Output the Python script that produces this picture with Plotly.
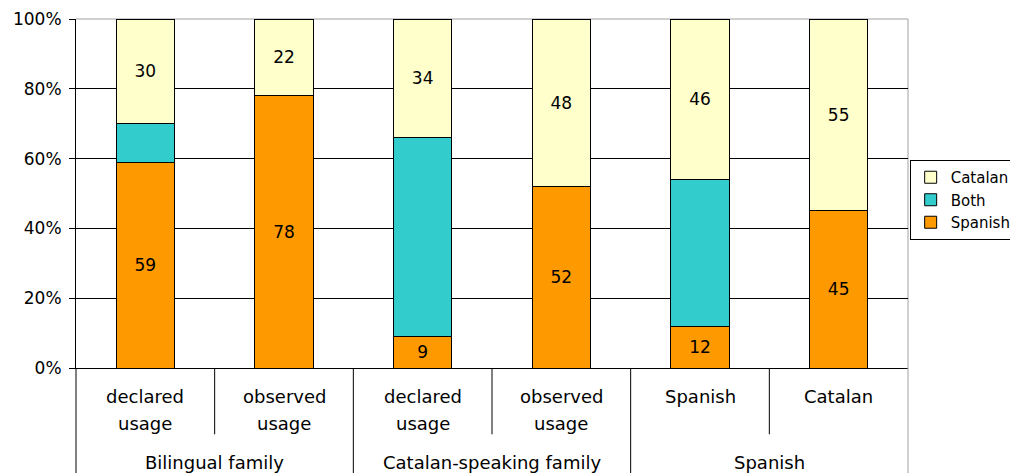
import plotly.graph_objects as go

# ── Data ─────────────────────────────────────────────────────────────────────
group_labels = ["Bilingual family", "Catalan-speaking family", "Spanish"]
group_of_bar = [0, 0, 1, 1, 2, 2]
sub_labels = [
    ["declared", "usage"],
    ["observed", "usage"],
    ["declared", "usage"],
    ["observed", "usage"],
    ["Spanish"],
    ["Catalan"],
]
spanish = [59, 78, 9, 52, 12, 45]
both = [11, None, 57, None, 42, None]
catalan = [30, 22, 34, 48, 46, 55]
y_ticks = [0, 20, 40, 60, 80, 100]

# ── Style ────────────────────────────────────────────────────────────────────
FONT = "DejaVu Sans"
FS = 17
FS_CAT = 18
COL_SPANISH = "#FF9900"
COL_BOTH = "#33CCCC"
COL_CATALAN = "#FFFFCC"
GREY = "#A0A0A0"

xs = list(range(len(sub_labels)))
n = len(xs)


def _bar(name, values, color, show_text):
    return go.Bar(
        x=xs,
        y=values,
        name=name,
        width=0.42,
        marker=dict(color=color, line=dict(color="black", width=1)),
        text=[v if (show_text and v) else "" for v in values],
        textposition="inside",
        insidetextanchor="middle",
        textangle=0,
        textfont=dict(family=FONT, size=FS, color="black"),
        hoverinfo="name+y",
    )


fig = go.Figure()
fig.add_trace(_bar("Spanish", spanish, COL_SPANISH, True))
fig.add_trace(_bar("Both", both, COL_BOTH, False))
fig.add_trace(_bar("Catalan", catalan, COL_CATALAN, True))

# grey top and right border of the plot area
fig.add_shape(type="line", xref="paper", yref="paper",
              x0=0, x1=1, y0=1, y1=1, line=dict(color=GREY, width=1), layer="below")
fig.add_shape(type="line", xref="paper", yref="paper",
              x0=1, x1=1, y0=0, y1=1, line=dict(color=GREY, width=1), layer="below")

# category table below the axis
INNER_DEPTH = -0.19
OUTER_DEPTH = -0.32
for k in range(n + 1):
    is_edge = k in (0, n)
    is_group_break = (0 < k < n) and group_of_bar[k] != group_of_bar[k - 1]
    depth = OUTER_DEPTH if (is_edge or is_group_break) else INNER_DEPTH
    color = GREY if k == n else "black"
    fig.add_shape(type="line", xref="paper", yref="paper",
                  x0=k / n, x1=k / n, y0=0, y1=depth,
                  line=dict(color=color, width=1))

for i, lines in zip(xs, sub_labels):
    for j, line in enumerate(lines):
        fig.add_annotation(x=i, y=-0.083 - j * 0.077, xref="x", yref="paper",
                           text=line, showarrow=False, yanchor="middle",
                           font=dict(family=FONT, size=FS_CAT, color="black"))

for g, label in enumerate(group_labels):
    members = [i for i in xs if group_of_bar[i] == g]
    fig.add_annotation(x=sum(members) / len(members), y=-0.27, xref="x", yref="paper",
                       text=label, showarrow=False, yanchor="middle",
                       font=dict(family=FONT, size=FS_CAT, color="black"))

fig.update_layout(
    width=1010,
    height=473,
    margin=dict(l=76, r=102, t=19, b=105, autoexpand=False),
    barmode="stack",
    paper_bgcolor="white",
    plot_bgcolor="white",
    font=dict(family=FONT, size=FS, color="black"),
    xaxis=dict(
        range=[-0.5, n - 0.5],
        showticklabels=False,
        ticks="",
        showgrid=False,
        showline=True,
        linecolor="black",
        linewidth=1,
        zeroline=False,
        fixedrange=True,
    ),
    yaxis=dict(
        range=[0, 100],
        tickvals=y_ticks,
        ticktext=[f"{v}%" for v in y_ticks],
        ticks="outside",
        ticklen=6,
        tickcolor="black",
        ticklabelstandoff=4,
        showgrid=False,
        minor=dict(tickvals=y_ticks[1:-1], showgrid=True, gridcolor="black",
                   gridwidth=1, ticks=""),
        showline=True,
        linecolor="black",
        linewidth=1,
        zeroline=False,
        fixedrange=True,
        tickfont=dict(family=FONT, size=FS, color="black"),
    ),
    legend=dict(
        x=1.002,
        y=0.596,
        xanchor="left",
        yanchor="top",
        traceorder="reversed",
        bgcolor="white",
        bordercolor="black",
        borderwidth=1,
        font=dict(family=FONT, size=15, color="black"),
        itemwidth=30,
        tracegroupgap=0,
    ),
    showlegend=True,
)

fig.write_html("out.html", config={"displayModeBar": False},
               post_script="document.body.style.margin='0';")
